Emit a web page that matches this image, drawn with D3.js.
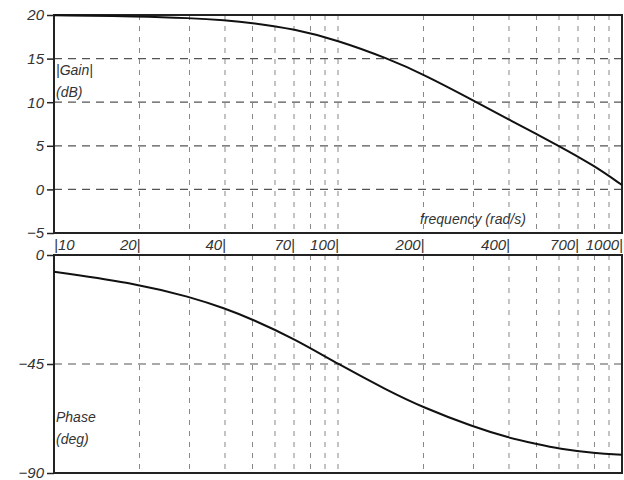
<!DOCTYPE html>
<meta charset="utf-8">
<head>
  <title>Bode plot</title>
  <style>
    body { margin: 0; background: #fff; }
    text { font-family: "Liberation Sans", "DejaVu Sans", sans-serif; font-style: italic; fill: #333; }
    .grid-h { stroke: #555; stroke-width: 1.2; stroke-dasharray: 8 6; }
    .grid-v { stroke: #888; stroke-width: 1; stroke-dasharray: 5 6; }
    .frame { stroke: #222; stroke-width: 2; fill: none; }
    .curve { stroke: #111; stroke-width: 2; fill: none; }
  </style>
  <script src="https://d3js.org/d3.v7.min.js"></script>
</head>
<body>
  <svg id="chart" width="624" height="480"></svg>
  <script>
// values
var gainFreq  = [10, 20, 30, 40, 50, 70, 100, 150, 200, 300, 400, 600, 800, 1000];
var gainDb    = [19.97, 19.85, 19.65, 19.4, 19.1, 18.4, 17.1, 15.0, 13.2, 10.2, 8.0, 5.0, 2.7, 0.5];
var phaseFreq = [10, 20, 30, 40, 50, 70, 100, 150, 200, 300, 400, 500, 600, 800, 1000];
var phaseDeg  = [-6.9, -12, -17.3, -22, -26.6, -34.5, -45, -56, -63, -71, -75.5, -78, -80, -81.8, -82.5];

var gainTicks  = [20, 15, 10, 5, 0, -5];
var gainGrid   = [15, 10, 5, 0];
var phaseTicks = [0, -45, -90];
var phaseGrid  = [-45];
var freqLabels = [10, 20, 40, 70, 100, 200, 400, 700, 1000];
var freqGrid   = [20, 30, 40, 50, 60, 70, 80, 90, 100, 200, 300, 400, 500, 600, 700, 800, 900];

var svg = d3.select('#chart');
var left = 54, right = 622;

var x = d3.scaleLog().domain([10, 1000]).range([left, right]);
var yGain = d3.scaleLinear().domain([-5, 20]).range([233, 15]);
var yPhase = d3.scaleLinear().domain([-90, 0]).range([473, 255]);

function panel(y, ticks, grid, fmt) {
  var g = svg.append('g');
  g.selectAll('line.gh').data(grid).enter().append('line')
    .attr('class', 'grid-h')
    .attr('x1', left).attr('x2', right)
    .attr('y1', d => y(d)).attr('y2', d => y(d));
  g.selectAll('line.gv').data(freqGrid).enter().append('line')
    .attr('class', 'grid-v')
    .attr('x1', d => x(d)).attr('x2', d => x(d))
    .attr('y1', y.range()[1]).attr('y2', y.range()[0]);

  var ax = g.append('g')
    .attr('transform', 'translate(' + left + ',0)')
    .call(d3.axisLeft(y).tickValues(ticks).tickSize(7).tickPadding(3).tickFormat(fmt));
  ax.select('.domain').remove();
  ax.selectAll('.tick line').attr('stroke', '#222').attr('stroke-width', 1.5);
  ax.selectAll('.tick text').attr('font-size', 15).attr('fill', '#333');

  g.append('rect').attr('class', 'frame')
    .attr('x', left).attr('y', y.range()[1])
    .attr('width', right - left).attr('height', y.range()[0] - y.range()[1]);
  return g;
}

var minus = d => (d < 0 ? '\u2212' + Math.abs(d) : d);
panel(yGain, gainTicks, gainGrid, minus);
panel(yPhase, phaseTicks, phaseGrid, minus);

// curves
var gainLine = d3.line().x(d => x(d[0])).y(d => yGain(d[1])).curve(d3.curveBasis);
svg.append('path').attr('class', 'curve')
  .attr('d', gainLine(gainFreq.map((f, i) => [f, gainDb[i]])));

var phaseLine = d3.line().x(d => x(d[0])).y(d => yPhase(d[1])).curve(d3.curveBasis);
svg.append('path').attr('class', 'curve')
  .attr('d', phaseLine(phaseFreq.map((f, i) => [f, phaseDeg[i]])));

// frequency labels between the panels
svg.selectAll('text.fl').data(freqLabels).enter().append('text')
  .attr('class', 'fl')
  .attr('x', d => d === 10 ? x(d) : x(d) + 1)
  .attr('y', 250)
  .attr('font-size', 15)
  .attr('text-anchor', d => d === 10 ? 'start' : 'end')
  .text(d => d === 10 ? '|10' : d + '|');

svg.append('text').attr('x', 420).attr('y', 224).attr('font-size', 14)
  .text('frequency (rad/s)');

svg.append('text').attr('x', 56).attr('y', 75).attr('font-size', 14).text('|Gain|');
svg.append('text').attr('x', 56).attr('y', 97).attr('font-size', 14).text('(dB)');
svg.append('text').attr('x', 56).attr('y', 422).attr('font-size', 14).text('Phase');
svg.append('text').attr('x', 56).attr('y', 444).attr('font-size', 14).text('(deg)');
  </script>
</body>
</html>
